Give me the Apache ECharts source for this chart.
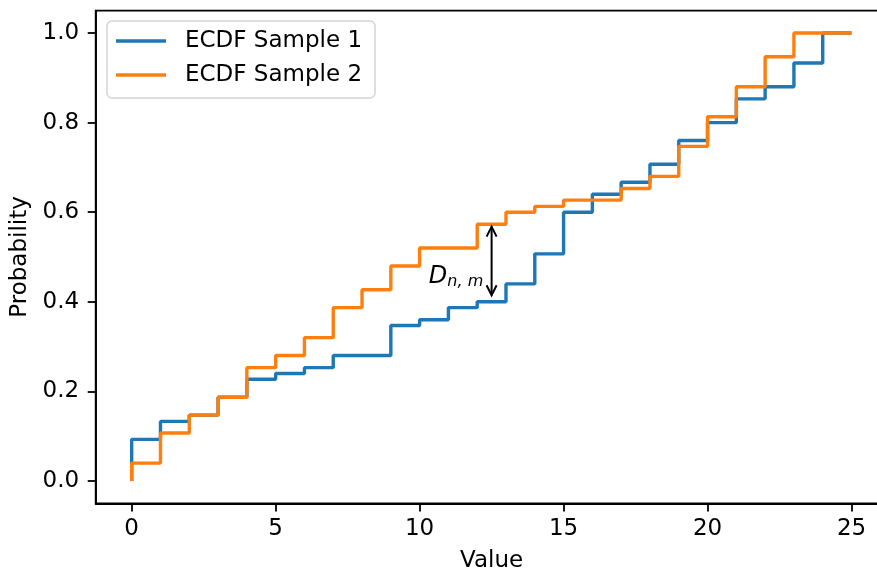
<!DOCTYPE html>
<html>
<head>
<meta charset="utf-8">
<script src="https://cdn.jsdelivr.net/npm/echarts@6/dist/echarts.min.js"></script>
<style>
html,body{margin:0;padding:0;background:#fff;}
#chart{width:877px;height:572px;}
</style>
</head>
<body>
<div id="chart"></div>
<script>
// ---- data ----
const xValues = [0,1,2,3,4,5,6,7,8,9,10,11,12,13,14,15,16,17,18,19,20,21,22,23,24,25];
const sample1 = [0.093,0.133,0.147,0.187,0.227,0.240,0.253,0.280,0.280,0.347,0.360,0.387,0.400,0.440,0.507,0.600,0.640,0.667,0.707,0.760,0.800,0.853,0.880,0.933,1.000,1.000];
const sample2 = [0.040,0.107,0.147,0.187,0.253,0.280,0.320,0.387,0.427,0.480,0.520,0.520,0.573,0.600,0.613,0.627,0.627,0.653,0.680,0.747,0.813,0.880,0.947,1.000,1.000,1.000];
const startValue = 0;
const seriesNames = ['ECDF Sample 1', 'ECDF Sample 2'];
const xTicks = [0,5,10,15,20,25];
const yTicks = [0,0.2,0.4,0.6,0.8,1.0];
const annotationArrow = [12.5, 0.40, 0.5733];   // x, lower, upper
const annotationLabel = [10.32, 0.441];          // label anchor (x, baseline y)

function stepData(vals){
  const d = [[xValues[0], startValue]];
  for (let i = 0; i < xValues.length; i++) d.push([xValues[i], vals[i]]);
  return d;
}

const FONT = 'DejaVu Sans';
const chart = echarts.init(document.getElementById('chart'), null, {renderer:'canvas'});

const option = {
  animation: false,
  backgroundColor: '#fff',
  grid: {
    left: 95.7, top: 10.6, width: 791.8, height: 492.8,
    outerBoundsMode: 'none', containLabel: false,
    show: true, borderColor: '#000', borderWidth: 1.8, backgroundColor: 'transparent'
  },
  legend: {
    orient: 'vertical',
    left: 107, top: 21,
    padding: [8, 13, 11, 9],
    itemGap: 10,
    itemWidth: 50, itemHeight: 3.5,
    icon: 'rect',
    backgroundColor: 'rgba(255,255,255,0.8)',
    borderColor: '#d4d4d4', borderWidth: 1.5, borderRadius: 5,
    data: seriesNames,
    textStyle: { fontFamily: FONT, fontSize: 23, color: '#000', lineHeight: 24, padding: [0,0,0,14] }
  },
  xAxis: {
    type: 'value', min: -1.25, max: 26.25,
    name: 'Value', nameLocation: 'middle', nameGap: 46,
    nameTextStyle: { fontFamily: FONT, fontSize: 23, color: '#000' },
    axisLine: { show: true, onZero: false, lineStyle: { color: '#000', width: 1.8 } },
    axisTick: { show: true, length: 8, lineStyle: { color: '#000', width: 1.8 }, customValues: xTicks },
    axisLabel: { fontFamily: FONT, fontSize: 23, color: '#000', margin: 14, customValues: xTicks,
                 formatter: v => String(v) },
    splitLine: { show: false }
  },
  yAxis: {
    type: 'value', min: -0.05, max: 1.05,
    name: 'Probability', nameLocation: 'middle', nameGap: 62,
    nameTextStyle: { fontFamily: FONT, fontSize: 23, color: '#000' },
    axisLine: { show: true, onZero: false, lineStyle: { color: '#000', width: 1.8 } },
    axisTick: { show: true, length: 8, lineStyle: { color: '#000', width: 1.8 }, customValues: yTicks },
    axisLabel: { fontFamily: FONT, fontSize: 23, color: '#000', margin: 16.5, customValues: yTicks,
                 formatter: v => v.toFixed(1) },
    splitLine: { show: false }
  },
  series: [
    {
      name: seriesNames[0], type: 'line', step: 'end', data: stepData(sample1),
      symbol: 'none', showSymbol: false, color: '#1f77b4',
      lineStyle: { width: 3.4, color: '#1f77b4' }, z: 2
    },
    {
      name: seriesNames[1], type: 'line', step: 'end', data: stepData(sample2),
      symbol: 'none', showSymbol: false, color: '#ff7f0e',
      lineStyle: { width: 3.4, color: '#ff7f0e' }, z: 3
    },
    {
      type: 'custom', coordinateSystem: 'cartesian2d', silent: true, z: 5, clip: false,
      data: [annotationArrow.concat(annotationLabel)],
      renderItem: function (params, api) {
        const pLo = api.coord([api.value(0), api.value(1)]);
        const pHi = api.coord([api.value(0), api.value(2)]);
        const lab = api.coord([api.value(3), api.value(4)]);
        const x = pHi[0];
        const yTop = pHi[1] + 2.5;
        const yBot = pLo[1] - 6.5;
        const hl = 10, hw = 5;
        const stroke = { stroke: '#000', lineWidth: 2, fill: null };
        return {
          type: 'group',
          children: [
            { type: 'line', shape: { x1: x, y1: yTop, x2: x, y2: yBot }, style: stroke },
            { type: 'polyline', shape: { points: [[x - hw, yTop + hl], [x, yTop], [x + hw, yTop + hl]] }, style: stroke },
            { type: 'polyline', shape: { points: [[x - hw, yBot - hl], [x, yBot], [x + hw, yBot - hl]] }, style: stroke },
            { type: 'text', style: { text: 'D', x: lab[0], y: lab[1] - 6.5, font: 'italic 24px "DejaVu Sans"',
                fill: '#000', textAlign: 'left', textVerticalAlign: 'middle', verticalAlign: 'middle' } },
            { type: 'text', style: { text: 'n, m', x: lab[0] + 18.5, y: lab[1] - 2, font: 'italic 16px "DejaVu Sans"',
                fill: '#000', textAlign: 'left', textVerticalAlign: 'middle', verticalAlign: 'middle' } }
          ]
        };
      }
    }
  ]
};
chart.setOption(option);
</script>
</body>
</html>
